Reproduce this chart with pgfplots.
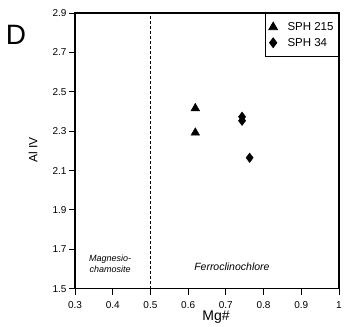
\documentclass[border=0pt]{standalone}
\usepackage{fontspec}
\setmainfont{Liberation Sans}
\usepackage{pgfplots}
\pgfplotsset{compat=1.18}
\begin{document}
\begin{tikzpicture}
\path[use as bounding box] (-75pt,-37.3pt) rectangle (269pt,288.7pt);
\begin{axis}[
  at={(0,0)}, anchor=origin,
  scale only axis, width=264pt, height=275.7pt,
  xmin=0.3, xmax=1.0, ymin=1.5, ymax=2.9,
  xtick={0.3,0.4,...,1.0}, ytick={1.5,1.7,...,2.9},
  xticklabels={0.3,0.4,0.5,0.6,0.7,0.8,0.9,1},
  yticklabels={1.5,1.7,1.9,2.1,2.3,2.5,2.7,2.9},
  tick align=outside, tick pos=left,
  major tick length=6pt,
  every tick/.style={black, line width=0.9pt},
  axis line style={line width=1.3pt},
  tick label style={font=\fontsize{10}{12}\selectfont},
  yticklabel style={xshift=1pt},
  xticklabel style={yshift=-3pt},
  /pgf/number format/assume math mode=true,
  xlabel={Mg\#}, ylabel={Al IV},
  xlabel style={font=\fontsize{14}{16}\selectfont, at={(axis description cs:0.534,0)}, anchor=base, yshift=-32pt},
  ylabel style={font=\fontsize{12}{14}\selectfont, at={(axis description cs:-0.159,0.503)}, anchor=center},
  legend style={at={(1,1)}, anchor=north east, draw=black, line width=0.9pt,
     font=\fontsize{11.5}{13}\selectfont, row sep=2pt, inner xsep=3pt, inner ysep=7pt,
     /tikz/every odd column/.append style={column sep=8pt}},
  legend cell align=left,
  clip=false,
]
\addplot[draw=black, densely dashed, line width=0.8pt, forget plot] coordinates {(0.5,1.5) (0.5,2.9)};
\addplot[only marks, mark=triangle*, mark size=5pt, black] coordinates {(0.619,2.416) (0.619,2.292)};
\addlegendentry{SPH 215}
\addplot[only marks, mark=diamond*, mark size=4.8pt, black] coordinates {(0.743,2.373) (0.743,2.353) (0.763,2.165)};
\addlegendentry{SPH 34}
\node[font=\fontsize{9}{10.7}\selectfont\itshape, align=center] at (axis cs:0.393,1.627) {Magnesio-\\chamosite};
\node[font=\fontsize{10.5}{12}\selectfont\itshape] at (axis cs:0.716,1.614) {Ferroclinochlore};
\end{axis}
\node[font=\fontsize{28}{30}\selectfont] at (-59pt,254pt) {D};
\end{tikzpicture}
\end{document}
